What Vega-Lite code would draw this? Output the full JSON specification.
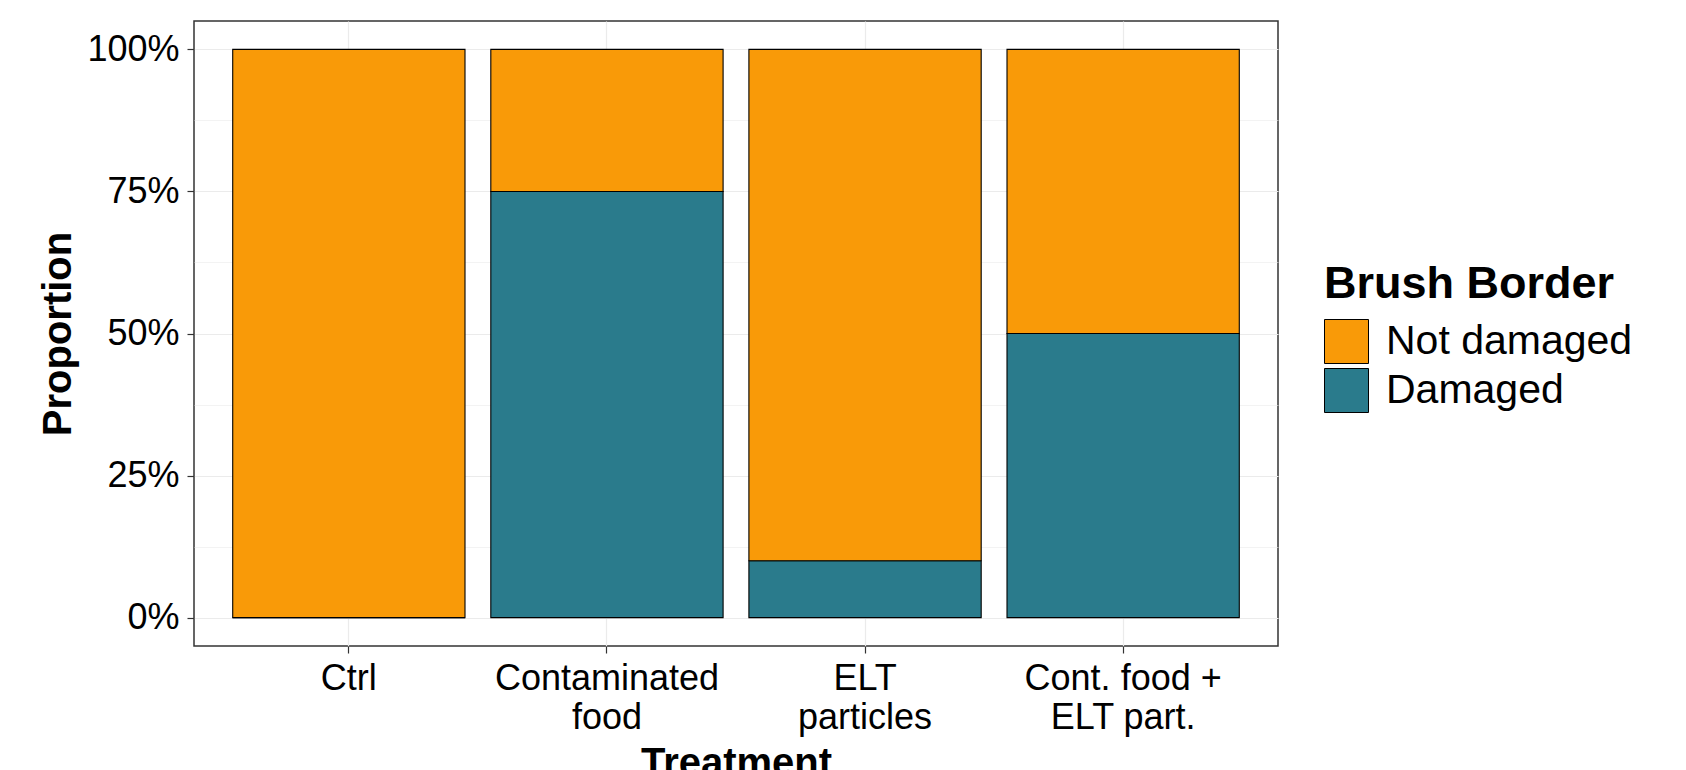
{
  "$schema": "https://vega.github.io/schema/vega-lite/v6.json",
  "width": 1084,
  "height": 625,
  "autosize": {"type": "none"},
  "padding": {"left": 194, "top": 21, "right": 408, "bottom": 124},
  "background": "white",
  "config": {
    "font": "Liberation Sans",
    "view": {"stroke": "#333333", "strokeWidth": 1.5}
  },
  "data": {
    "values": [
      {"Treatment": "Ctrl", "BrushBorder": "Damaged", "Proportion": 0.0, "Rank": 1},
      {"Treatment": "Ctrl", "BrushBorder": "Not damaged", "Proportion": 1.0, "Rank": 2},
      {"Treatment": "Contaminated food", "BrushBorder": "Damaged", "Proportion": 0.75, "Rank": 1},
      {"Treatment": "Contaminated food", "BrushBorder": "Not damaged", "Proportion": 0.25, "Rank": 2},
      {"Treatment": "ELT particles", "BrushBorder": "Damaged", "Proportion": 0.1, "Rank": 1},
      {"Treatment": "ELT particles", "BrushBorder": "Not damaged", "Proportion": 0.9, "Rank": 2},
      {"Treatment": "Cont. food + ELT part.", "BrushBorder": "Damaged", "Proportion": 0.5, "Rank": 1},
      {"Treatment": "Cont. food + ELT part.", "BrushBorder": "Not damaged", "Proportion": 0.5, "Rank": 2}
    ]
  },
  "mark": {"type": "bar", "stroke": "black", "strokeWidth": 1.1},
  "encoding": {
    "x": {
      "field": "Treatment",
      "type": "nominal",
      "sort": ["Ctrl", "Contaminated food", "ELT particles", "Cont. food + ELT part."],
      "scale": {"paddingInner": 0.1, "paddingOuter": 0.15},
      "axis": {
        "title": "Treatment",
        "titleFontSize": 40,
        "titleFontWeight": "bold",
        "titleColor": "black",
        "titlePadding": 8,
        "labelAngle": 0,
        "labelFontSize": 36,
        "labelColor": "black",
        "labelLineHeight": 39,
        "labelPadding": 8,
        "labelLimit": 400,
        "labelExpr": "datum.label == 'Contaminated food' ? ['Contaminated', 'food'] : datum.label == 'ELT particles' ? ['ELT', 'particles'] : datum.label == 'Cont. food + ELT part.' ? ['Cont. food +', 'ELT part.'] : datum.label",
        "domain": false,
        "grid": true,
        "gridColor": "#EBEBEB",
        "gridWidth": 1.2,
        "tickColor": "#333333",
        "tickSize": 7,
        "tickWidth": 1.2
      }
    },
    "y": {
      "field": "Proportion",
      "type": "quantitative",
      "stack": "zero",
      "scale": {"domain": [-0.05, 1.05], "nice": false, "zero": false},
      "axis": {
        "title": "Proportion",
        "titleFontSize": 40,
        "titleFontWeight": "bold",
        "titleColor": "black",
        "titlePadding": 8,
        "values": [0, 0.125, 0.25, 0.375, 0.5, 0.625, 0.75, 0.875, 1],
        "labelExpr": "datum.value * 4 == round(datum.value * 4) ? format(datum.value, '.0%') : ''",
        "labelFontSize": 36,
        "labelColor": "black",
        "labelPadding": 8,
        "domain": false,
        "grid": true,
        "gridColor": "#EBEBEB",
        "gridWidth": {"condition": {"test": "datum.value * 4 != round(datum.value * 4)", "value": 0.6}, "value": 1.2},
        "tickColor": "#333333",
        "tickOpacity": {"condition": {"test": "datum.value * 4 != round(datum.value * 4)", "value": 0}, "value": 1},
        "tickSize": 7,
        "tickWidth": 1.2
      }
    },
    "color": {
      "field": "BrushBorder",
      "type": "nominal",
      "scale": {"domain": ["Not damaged", "Damaged"], "range": ["#F99A08", "#2A7B8C"]},
      "legend": {
        "title": "Brush Border",
        "orient": "none",
        "legendX": 1130,
        "legendY": 241,
        "titleFontSize": 45,
        "titleFontWeight": "bold",
        "titleColor": "black",
        "titlePadding": 12,
        "titleLimit": 500,
        "labelFontSize": 41,
        "labelColor": "black",
        "labelLimit": 500,
        "labelOffset": 17,
        "symbolType": "square",
        "symbolSize": 1936,
        "symbolStrokeColor": "black",
        "symbolStrokeWidth": 1,
        "symbolOpacity": 1,
        "rowPadding": 0,
        "padding": 0
      }
    },
    "order": {"field": "Rank", "type": "quantitative"}
  }
}
